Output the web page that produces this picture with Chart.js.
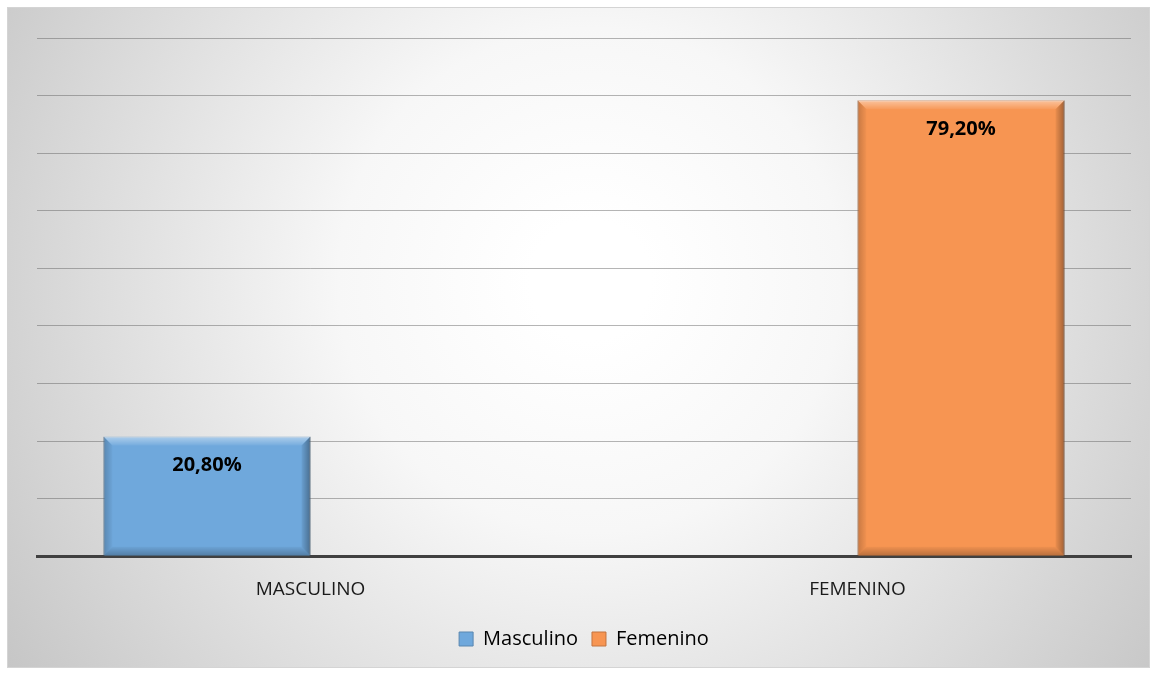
<!DOCTYPE html>
<html>
<head>
<meta charset="utf-8">
<script src="https://cdn.jsdelivr.net/npm/chart.js@4"></script>
<style>
  body { margin: 0; background: #fff; }
  #wrap { width: 1157px; height: 675px; }
</style>
</head>
<body>
<div id="wrap"><canvas id="chart" width="1157" height="675"></canvas></div>
<script>
// DATA
const categories = ['MASCULINO', 'FEMENINO']
const seriesNames = ['Masculino', 'Femenino']
const masculino = [20.8, null]
const femenino = [null, 79.2]
const seriesColors = ['#6fa8dc', '#f79552']
const seriesBorders = ['#5a87b0', '#c27440']

// BACKGROUND (radial grey gradient + frame)
const bgPlugin = {
    id: 'bg',
    beforeDraw(chart) {
        const ctx = chart.ctx
        ctx.save()
        const g = ctx.createRadialGradient(590, 280, 60, 590, 280, 700)
        g.addColorStop(0, '#ffffff')
        g.addColorStop(0.3, '#f7f7f7')
        g.addColorStop(1, '#c6c6c6')
        ctx.fillStyle = g
        ctx.fillRect(7, 7, 1143, 661)
        ctx.strokeStyle = '#d4d4d4'
        ctx.lineWidth = 1
        ctx.strokeRect(7.5, 7.5, 1142, 660)
        ctx.restore()
    }
}

// BEVEL on bars
const bevelPlugin = {
    id: 'bevel',
    afterDatasetsDraw(chart) {
        const ctx = chart.ctx
        ctx.save()
        chart.data.datasets.forEach((ds, i) => {
            chart.getDatasetMeta(i).data.forEach((bar, j) => {
                if (ds.data[j] == null) return
                const l = bar.x - bar.width / 2, r = bar.x + bar.width / 2
                const t = bar.y, b = bar.base, e = 9
                // top highlight
                let g = ctx.createLinearGradient(0, t, 0, t + e)
                g.addColorStop(0, 'rgba(255,255,255,0.45)')
                g.addColorStop(1, 'rgba(255,255,255,0.05)')
                ctx.fillStyle = g
                ctx.beginPath()
                ctx.moveTo(l, t); ctx.lineTo(r, t); ctx.lineTo(r - e, t + e); ctx.lineTo(l + e, t + e); ctx.closePath()
                ctx.fill()
                // right shade
                g = ctx.createLinearGradient(r - e, 0, r, 0)
                g.addColorStop(0, 'rgba(0,0,0,0.05)')
                g.addColorStop(1, 'rgba(0,0,0,0.35)')
                ctx.fillStyle = g
                ctx.beginPath()
                ctx.moveTo(r, t); ctx.lineTo(r, b); ctx.lineTo(r - e, b - e); ctx.lineTo(r - e, t + e); ctx.closePath()
                ctx.fill()
                // left shade
                g = ctx.createLinearGradient(l, 0, l + e, 0)
                g.addColorStop(0, 'rgba(0,0,0,0.2)')
                g.addColorStop(1, 'rgba(0,0,0,0.02)')
                ctx.fillStyle = g
                ctx.beginPath()
                ctx.moveTo(l, t); ctx.lineTo(l + e, t + e); ctx.lineTo(l + e, b - e); ctx.lineTo(l, b); ctx.closePath()
                ctx.fill()
                // bottom shade
                g = ctx.createLinearGradient(0, b - e, 0, b)
                g.addColorStop(0, 'rgba(0,0,0,0.03)')
                g.addColorStop(1, 'rgba(0,0,0,0.25)')
                ctx.fillStyle = g
                ctx.beginPath()
                ctx.moveTo(l, b); ctx.lineTo(l + e, b - e); ctx.lineTo(r - e, b - e); ctx.lineTo(r, b); ctx.closePath()
                ctx.fill()
            })
        })
        ctx.restore()
    }
}

// DATA LABELS
const labelPlugin = {
    id: 'valueLabels',
    afterDraw(chart) {
        const ctx = chart.ctx
        ctx.save()
        ctx.font = 'bold 20px "Open Sans", sans-serif'
        ctx.fillStyle = '#000'
        ctx.textAlign = 'center'
        ctx.textBaseline = 'middle'
        chart.data.datasets.forEach((ds, i) => {
            chart.getDatasetMeta(i).data.forEach((bar, j) => {
                const v = ds.data[j]
                if (v == null) return
                ctx.fillText(v.toFixed(2).replace('.', ',') + '%', bar.x, bar.y + 29)
            })
        })
        ctx.restore()
    }
}

const chart = new Chart(document.getElementById('chart'), {
    type: 'bar',
    data: {
        labels: categories,
        datasets: [{
            label: seriesNames[0],
            data: masculino,
            backgroundColor: seriesColors[0],
            borderColor: seriesBorders[0],
            borderWidth: 1
        }, {
            label: seriesNames[1],
            data: femenino,
            backgroundColor: seriesColors[1],
            borderColor: seriesBorders[1],
            borderWidth: 1
        }]
    },
    plugins: [bgPlugin, bevelPlugin, labelPlugin],
    options: {
        responsive: false,
        animation: false,
        layout: { padding: { left: 37, right: 26, top: 38, bottom: 16 } },
        datasets: { bar: { barPercentage: 1, categoryPercentage: 0.757 } },
        scales: {
            x: {
                grid: { display: false },
                border: { display: true, color: '#404040', width: 3 },
                ticks: { color: '#1a1a1a', font: { family: 'Open Sans', size: 19 }, padding: 14 }
            },
            y: {
                min: 0,
                max: 90,
                z: 1,
                ticks: { display: false, stepSize: 10 },
                border: { display: false },
                grid: { color: 'rgba(90,90,90,0.45)', drawTicks: false, tickLength: 0 }
            }
        },
        plugins: {
            legend: {
                position: 'bottom',
                labels: {
                    color: '#000',
                    font: { family: 'Open Sans', size: 20 },
                    boxWidth: 14,
                    boxHeight: 14,
                    padding: 14
                }
            },
            tooltip: { enabled: false }
        }
    }
})
</script>
</body>
</html>
